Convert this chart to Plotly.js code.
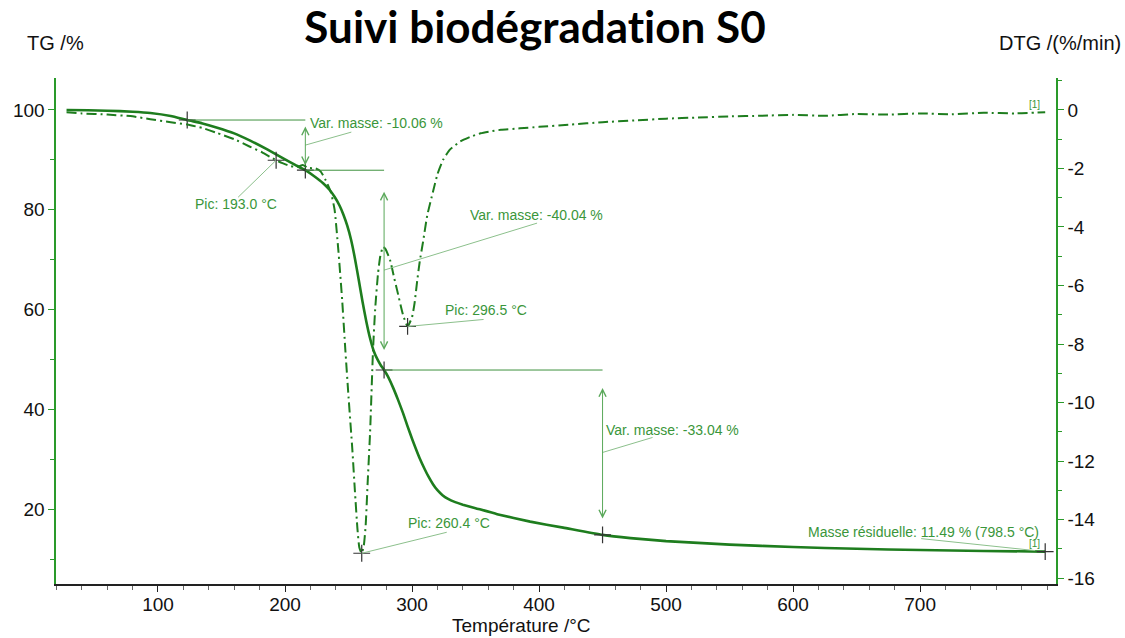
<!DOCTYPE html>
<html>
<head>
<meta charset="utf-8">
<script src="https://cdn.plot.ly/plotly-3.0.1.min.js"></script>
<style>html,body{margin:0;padding:0;background:#fff;}#chart{width:1125px;height:638px;}
text{font-variant-ligatures:none;font-feature-settings:"liga" 0,"clig" 0;}</style>
</head>
<body>
<div id="chart"></div>
<script>
// ---- Data ----
const tgTemp = [28, 45, 60, 80, 94, 110, 123, 135, 146, 160, 173, 186, 200, 208, 216, 223, 230, 235, 239, 243, 246, 249, 252, 255, 258, 261, 264, 267, 270, 273, 275.5, 278, 281, 285, 289, 293, 296.5, 300, 303, 306, 310, 313, 316.5, 320, 324, 328, 334, 340, 350, 367, 393, 419, 450, 472, 500, 550, 600, 650, 700, 750, 798.5];
const tgValues = [100.0, 99.95, 99.85, 99.65, 99.4, 98.8, 97.98, 97.3, 96.5, 95.3, 93.8, 92.1, 90.1, 89.0, 87.92, 86.7, 85.3, 84.0, 82.6, 80.8, 79.0, 76.8, 74.0, 70.3, 66.0, 61.6, 57.6, 54.2, 51.6, 49.9, 48.8, 47.88, 46.6, 44.4, 41.9, 39.2, 36.6, 34.1, 32.1, 30.2, 28.0, 26.5, 25.0, 23.8, 22.8, 22.1, 21.4, 20.9, 20.2, 19.0, 17.5, 16.3, 14.84, 14.2, 13.6, 12.9, 12.4, 12.05, 11.8, 11.62, 11.49];

const dtgTemp = [28, 40, 60, 80, 94, 110, 123, 135, 146, 160, 172, 182, 188, 193, 198, 204, 210, 214, 218, 224, 228, 232, 236, 239, 242, 245, 247.5, 250, 253, 255, 257, 258.5, 260.4, 262, 263.5, 265, 267, 269.3, 271, 273.2, 275, 277.2, 279, 282.7, 286, 288.2, 292.9, 296.5, 300, 302, 303.9, 306, 308.7, 312, 316.5, 320, 324.4, 330, 338, 346, 354, 362, 370, 385, 400, 425, 450, 475, 500, 525, 550, 575, 600, 625, 650, 675, 700, 725, 750, 775, 798.5];
const dtgValues = [-0.08, -0.12, -0.16, -0.22, -0.32, -0.42, -0.5, -0.62, -0.78, -1.0, -1.25, -1.45, -1.6, -1.72, -1.82, -1.92, -1.95, -1.88, -1.98, -2.0, -2.1, -2.4, -2.8, -3.4, -4.8, -6.5, -8.2, -9.8, -11.6, -13.0, -14.3, -14.95, -15.15, -14.9, -14.2, -12.8, -11.0, -8.2, -6.8, -5.6, -5.0, -4.68, -4.75, -5.13, -5.75, -6.15, -7.0, -7.4, -7.08, -6.6, -5.9, -5.2, -4.5, -3.6, -2.8, -2.2, -1.71, -1.35, -1.08, -0.92, -0.8, -0.73, -0.68, -0.63, -0.58, -0.5, -0.42, -0.36, -0.3, -0.26, -0.22, -0.2, -0.17, -0.2, -0.14, -0.16, -0.12, -0.15, -0.1, -0.12, -0.08];

// mass-loss steps (TG)
const stepTemp = [123, 216, 278, 450];
const stepTG = [97.98, 87.92, 47.88, 14.84];
// DTG peaks
const peakTemp = [193.0, 260.4, 296.5];
const peakDTG = [-1.72, -15.15, -7.4];
// residual mass
const residTemp = 798.5;
const residTG = 11.49;

const xTicks = [100, 200, 300, 400, 500, 600, 700];
const yTicks = [20, 40, 60, 80, 100];
const y2Ticks = [0, -2, -4, -6, -8, -10, -12, -14, -16];
const y2TickText = ['0', '-2', '-4', '-6', '-8', '-10', '-12', '-14', '-16'];

const titleText = 'Suivi biodégradation S0';
const tgLabel = 'TG /%';
const dtgLabel = 'DTG /(%/min)';
const xLabel = 'Température /°C';

// ---- Styles ----
const curveColor = '#1e7d1e';
const axisGreen = '#2a9a2a';
const annColor = '#3a963a';
const lineColor = '#3f923f';
const leaderColor = '#8cc08c';
const font = 'Liberation Sans, Arial, sans-serif';

const traces = [
  {x: tgTemp, y: tgValues, type: 'scatter', mode: 'lines', line: {color: curveColor, width: 2.6, shape: 'spline', smoothing: 0.4}, yaxis: 'y', hoverinfo: 'skip'},
  {x: dtgTemp, y: dtgValues, type: 'scatter', mode: 'lines', line: {color: curveColor, width: 2, dash: '10px,4px,2px,4px', shape: 'spline', smoothing: 0.5}, yaxis: 'y2', hoverinfo: 'skip'},
  {x: stepTemp.concat([residTemp]), y: stepTG.concat([residTG]), type: 'scatter', mode: 'markers', yaxis: 'y',
   marker: {symbol: 'cross-thin', size: 12, line: {width: 1.2, color: '#333'}}, hoverinfo: 'skip'},
  {x: peakTemp, y: peakDTG, type: 'scatter', mode: 'markers', yaxis: 'y2',
   marker: {symbol: 'cross-thin', size: 12, line: {width: 1.2, color: '#333'}}, hoverinfo: 'skip'}
];

const shapes = [];
const annotations = [];

// horizontal level lines & vertical double arrows for each step
const stepLabelOffsets = [[3, 22, 46, 13], [84, 55, 153, 47], [1, 22, 50, 15]];
for (let k = 0; k < stepTemp.length - 1; k++) {
  shapes.push({type: 'line', xref: 'x', yref: 'y', x0: stepTemp[k], x1: stepTemp[k + 1], y0: stepTG[k], y1: stepTG[k], line: {color: lineColor, width: 1}});
  const top = stepTG[k], bot = stepTG[k + 1];
  const inset = (top - bot) * 0.1;
  annotations.push({x: stepTemp[k + 1], y: bot + inset, ax: stepTemp[k + 1], ay: top - inset, xref: 'x', yref: 'y', axref: 'x', ayref: 'y',
    text: '', showarrow: true, arrowhead: 5, startarrowhead: 5, arrowside: 'end+start', arrowsize: 1.4, startarrowsize: 1.4, arrowwidth: 1, arrowcolor: '#5aa85a'});
  const mid = (top + bot) / 2;
  const o = stepLabelOffsets[k];
  shapes.push({type: 'line', xref: 'x', yref: 'y', xsizemode: 'pixel', ysizemode: 'pixel', xanchor: stepTemp[k + 1], yanchor: mid, x0: 0, y0: 0, x1: o[2], y1: o[3], line: {color: leaderColor, width: 1}});
  annotations.push({x: stepTemp[k + 1], y: mid, xref: 'x', yref: 'y', xanchor: 'left', yanchor: 'middle', xshift: o[0], yshift: o[1], showarrow: false,
    text: 'Var. masse: ' + (bot - top).toFixed(2) + ' %', font: {family: font, size: 14, color: annColor}});
}

// peak labels
const peakOffsets = [[-83, -44, -38, -37], [44, 30, 85, 21], [35, 16, 76, 7]];
for (let i = 0; i < peakTemp.length; i++) {
  const o = peakOffsets[i];
  shapes.push({type: 'line', xref: 'x', yref: 'y2', xsizemode: 'pixel', ysizemode: 'pixel', xanchor: peakTemp[i], yanchor: peakDTG[i], x0: 0, y0: 0, x1: o[2], y1: o[3], line: {color: leaderColor, width: 1}});
  annotations.push({x: peakTemp[i], y: peakDTG[i], xref: 'x', yref: 'y2', xanchor: 'left', yanchor: 'middle', xshift: o[0], yshift: o[1], showarrow: false,
    text: 'Pic: ' + peakTemp[i].toFixed(1) + ' °C', font: {family: font, size: 14, color: annColor}});
}

// residual mass
shapes.push({type: 'line', xref: 'x', yref: 'y', xsizemode: 'pixel', ysizemode: 'pixel', xanchor: residTemp, yanchor: residTG, x0: -10, y0: 1, x1: -124, y1: 13, line: {color: leaderColor, width: 1}});
annotations.push({x: residTemp, y: residTG, xref: 'x', yref: 'y', xanchor: 'right', yanchor: 'middle', xshift: -4, yshift: 20, showarrow: false,
  text: 'Masse résiduelle: ' + residTG.toFixed(2) + ' % (' + residTemp.toFixed(1) + ' °C)', font: {family: font, size: 14, color: annColor}});
annotations.push({x: residTemp, y: residTG, xref: 'x', yref: 'y', xanchor: 'right', yanchor: 'middle', xshift: -3, yshift: 8, showarrow: false,
  text: '[1]', font: {family: font, size: 10, color: annColor}});
annotations.push({x: dtgTemp[dtgTemp.length - 1], y: dtgValues[dtgValues.length - 1], xref: 'x', yref: 'y2', xanchor: 'right', yanchor: 'middle', xshift: -3, yshift: 8, showarrow: false,
  text: '[1]', font: {family: font, size: 10, color: annColor}});

// axis name labels
annotations.push({xref: 'paper', yref: 'paper', x: 0, y: 1, xshift: -31, yshift: 35, xanchor: 'left', yanchor: 'middle', showarrow: false, text: tgLabel, font: {family: font, size: 20, color: '#111'}});
annotations.push({xref: 'paper', yref: 'paper', x: 1, y: 1, xshift: 67, yshift: 35, xanchor: 'right', yanchor: 'middle', showarrow: false, text: dtgLabel, font: {family: font, size: 20, color: '#111'}});
annotations.push({xref: 'paper', yref: 'paper', x: 0.465, y: 0, yshift: -41, xanchor: 'center', yanchor: 'middle', showarrow: false, text: xLabel, font: {family: font, size: 19, color: '#111'}});

const layout = {
  width: 1125, height: 638,
  margin: {l: 56, r: 69, t: 78, b: 54},
  paper_bgcolor: '#fff', plot_bgcolor: '#fff',
  showlegend: false,
  title: {text: '<b>' + titleText + '</b>', font: {family: 'Lato, Open Sans, sans-serif', size: 44, color: '#000'}, xref: 'container', yref: 'container', x: 0.4756, y: 0.956, xanchor: 'center', yanchor: 'middle'},
  xaxis: {range: [19.7, 807], tickvals: xTicks, ticks: 'outside', ticklen: 6, tickwidth: 1, tickcolor: '#222', showline: true, linecolor: '#222', linewidth: 1.5,
    showgrid: false, zeroline: false, ticklabelstandoff: -3, tickfont: {family: font, size: 19, color: '#111'},
    minor: {dtick: 20, tick0: 0, ticks: 'outside', ticklen: 4, tickcolor: '#666', showgrid: false}},
  yaxis: {range: [5.0, 106.4], tickvals: yTicks, ticks: 'outside', ticklen: 6, tickwidth: 1, tickcolor: axisGreen, showline: true, linecolor: axisGreen, linewidth: 1.6,
    showgrid: false, zeroline: false, tickfont: {family: font, size: 19, color: '#111'},
    minor: {dtick: 10, tick0: 0, ticks: 'outside', ticklen: 4, tickcolor: axisGreen, showgrid: false}},
  yaxis2: {range: [-16.2, 1.09], overlaying: 'y', side: 'right', tickvals: y2Ticks, ticktext: y2TickText, ticks: 'outside', ticklen: 6, tickwidth: 1, tickcolor: axisGreen,
    showline: true, linecolor: axisGreen, linewidth: 1.6, showgrid: false, zeroline: false, tickfont: {family: font, size: 19, color: '#111'},
    minor: {dtick: 1, tick0: 0, ticks: 'outside', ticklen: 4, tickcolor: axisGreen, showgrid: false}},
  shapes: shapes,
  annotations: annotations
};

Plotly.newPlot('chart', traces, layout, {staticPlot: true, displayModeBar: false});
</script>
</body>
</html>
